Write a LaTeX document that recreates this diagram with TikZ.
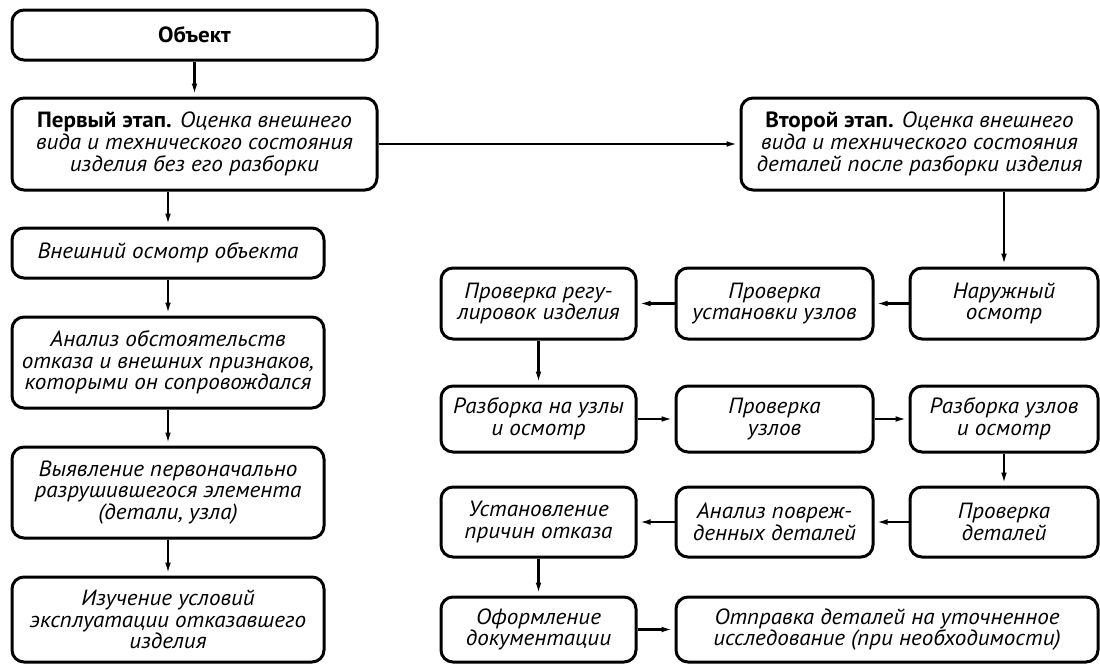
\documentclass[tikz,border=0pt]{standalone}
\usepackage{fontspec}
\setmainfont{PT Sans}[FakeStretch=1.05]
\usetikzlibrary{arrows.meta}

\begin{document}
\begin{tikzpicture}[x=1pt,y=-1pt,
  box/.style={draw=black, line width=3pt, rounded corners=12pt, align=center, inner sep=0pt,
    font=\fontsize{22}{21.7}\selectfont\itshape},
  link/.style={draw=black, line width=2.4pt, -{Latex[length=13pt,width=5.5pt]}}]
\useasboundingbox (0,0) rectangle (1100,664);
\node [box, minimum width=365, minimum height=50] (obj) at (194.5,35) {\upshape\bfseries Объект};
\node [box, minimum width=365, minimum height=92] (perv) at (194.5,144) {{\upshape\bfseries Первый этап.} Оценка внешнего\\вида и технического состояния\\изделия без его разборки};
\node [box, minimum width=312, minimum height=50] (vnesh) at (168,253) {Внешний осмотр объекта};
\node [box, minimum width=312, minimum height=91] (anal) at (168,362.5) {Анализ обстоятельств\\отказа и внешних признаков,\\которыми он сопровождался};
\node [box, minimum width=312, minimum height=91] (vyyav) at (168,492.5) {Выявление первоначально\\разрушившегося элемента\\(детали, узла)};
\node [box, minimum width=312, minimum height=85] (izuch) at (168,619.5) {Изучение условий\\эксплуатации отказавшего\\изделия};
\node [box, minimum width=357, minimum height=92] (vtor) at (919.5,144) {{\upshape\bfseries Второй этап.} Оценка внешнего\\вида и технического состояния\\деталей после разборки изделия};
\node [box, minimum width=188, minimum height=71] (narosm) at (1004,303.5) {Наружный\\осмотр};
\node [box, minimum width=197, minimum height=71] (provust) at (774.5,303.5) {Проверка\\установки узлов};
\node [box, minimum width=195, minimum height=71] (provreg) at (538.5,303.5) {Проверка регу-\\лировок изделия};
\node [box, minimum width=195, minimum height=66] (razbuz) at (538.5,419) {Разборка на узлы\\и осмотр};
\node [box, minimum width=197, minimum height=66] (provuz) at (774.5,419) {Проверка\\узлов};
\node [box, minimum width=188, minimum height=66] (razbosm) at (1004,419) {Разборка узлов\\и осмотр};
\node [box, minimum width=188, minimum height=70] (provdet) at (1004,522) {Проверка\\деталей};
\node [box, minimum width=197, minimum height=70] (analpov) at (774.5,522) {Анализ повреж-\\денных деталей};
\node [box, minimum width=195, minimum height=70] (ustan) at (538.5,522) {Установление\\причин отказа};
\node [box, minimum width=195, minimum height=65] (oform) at (538.5,629.5) {Оформление\\документации};
\node [box, minimum width=422, minimum height=65] (otpr) at (887,629.5) {Отправка деталей на уточненное\\исследование (при необходимости)};
\draw [link] (obj) -- (perv);
\draw [link] (vnesh.north |- perv.south) -- (vnesh);
\draw [link] (vnesh) -- (anal);
\draw [link] (anal) -- (vyyav);
\draw [link] (vyyav) -- (izuch);
\draw [link] (perv) -- (vtor);
\draw [link] (narosm.north |- vtor.south) -- (narosm);
\draw [link] (narosm) -- (provust);
\draw [link] (provust) -- (provreg);
\draw [link] (provreg) -- (razbuz);
\draw [link] (razbuz) -- (provuz);
\draw [link] (provuz) -- (razbosm);
\draw [link] (razbosm) -- (provdet);
\draw [link] (provdet) -- (analpov);
\draw [link] (analpov) -- (ustan);
\draw [link] (ustan) -- (oform);
\draw [link] (oform) -- (otpr);
\end{tikzpicture}
\end{document}
